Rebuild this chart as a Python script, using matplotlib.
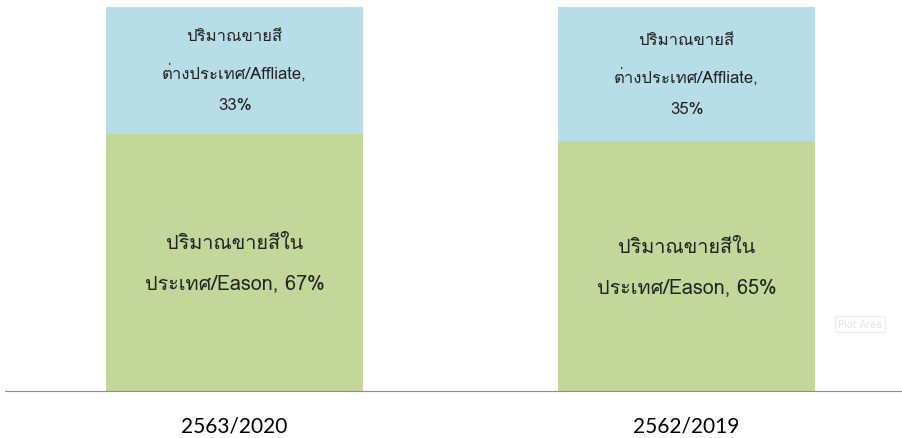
import matplotlib.pyplot as plt
from matplotlib import font_manager

# data
categories = ["2563/2020", "2562/2019"]
eason = [67, 65]
affiliate = [33, 35]
eason_name = "ปริมาณขายสีใน\nประเทศ/Eason"
affiliate_name = "ปริมาณขายสี\nต่างประเทศ/Affliate"

thai_fonts = [f.name for f in font_manager.fontManager.ttflist
              if "thai" in f.name.lower() or f.name in ("Loma", "Garuda", "Tlwg Typo", "Norasi", "Waree")]
fam = (thai_fonts[:1] if thai_fonts else []) + ["DejaVu Sans"]

fig = plt.figure(figsize=(9.03, 4.39), dpi=100)
ax = fig.add_axes([5 / 903, 1 - 392 / 439, 898 / 903, 384 / 439])

x = list(range(len(categories)))
w = 0.569
ax.bar(x, eason, width=w, color="#C4D79B")
ax.bar(x, affiliate, width=w, bottom=eason, color="#B7DDE8")

for i in x:
    ax.text(i, eason[i] / 2, f"{eason_name}, {eason[i]}%", ha="center", va="center",
            fontsize=14.3, linespacing=2.4, family=fam, color="#222222")
    ax.text(i, eason[i] + affiliate[i] / 2, f"{affiliate_name},\n{affiliate[i]}%", ha="center",
            va="center", fontsize=12, linespacing=2.3, family=fam, color="#222222")

ax.set_xlim(-0.508, 1.479)
ax.set_ylim(0, 100)
for s in ["top", "right", "left"]:
    ax.spines[s].set_visible(False)
ax.spines["bottom"].set_color("#8c8c8c")
ax.set_yticks([])
ax.set_xticks(x)
ax.set_xticklabels(categories, fontsize=15, family="Lato")
ax.tick_params(axis="x", length=0, pad=18)

# leftover hover tooltip in the source screenshot
fig.text(860 / 903, 1 - 325 / 439, "Plot Area", fontsize=7, color="#e6e6e6", ha="center",
         va="center", bbox=dict(boxstyle="square,pad=0.3", fc="white", ec="#eeeeee"))

fig.savefig("out.png", dpi=100)
